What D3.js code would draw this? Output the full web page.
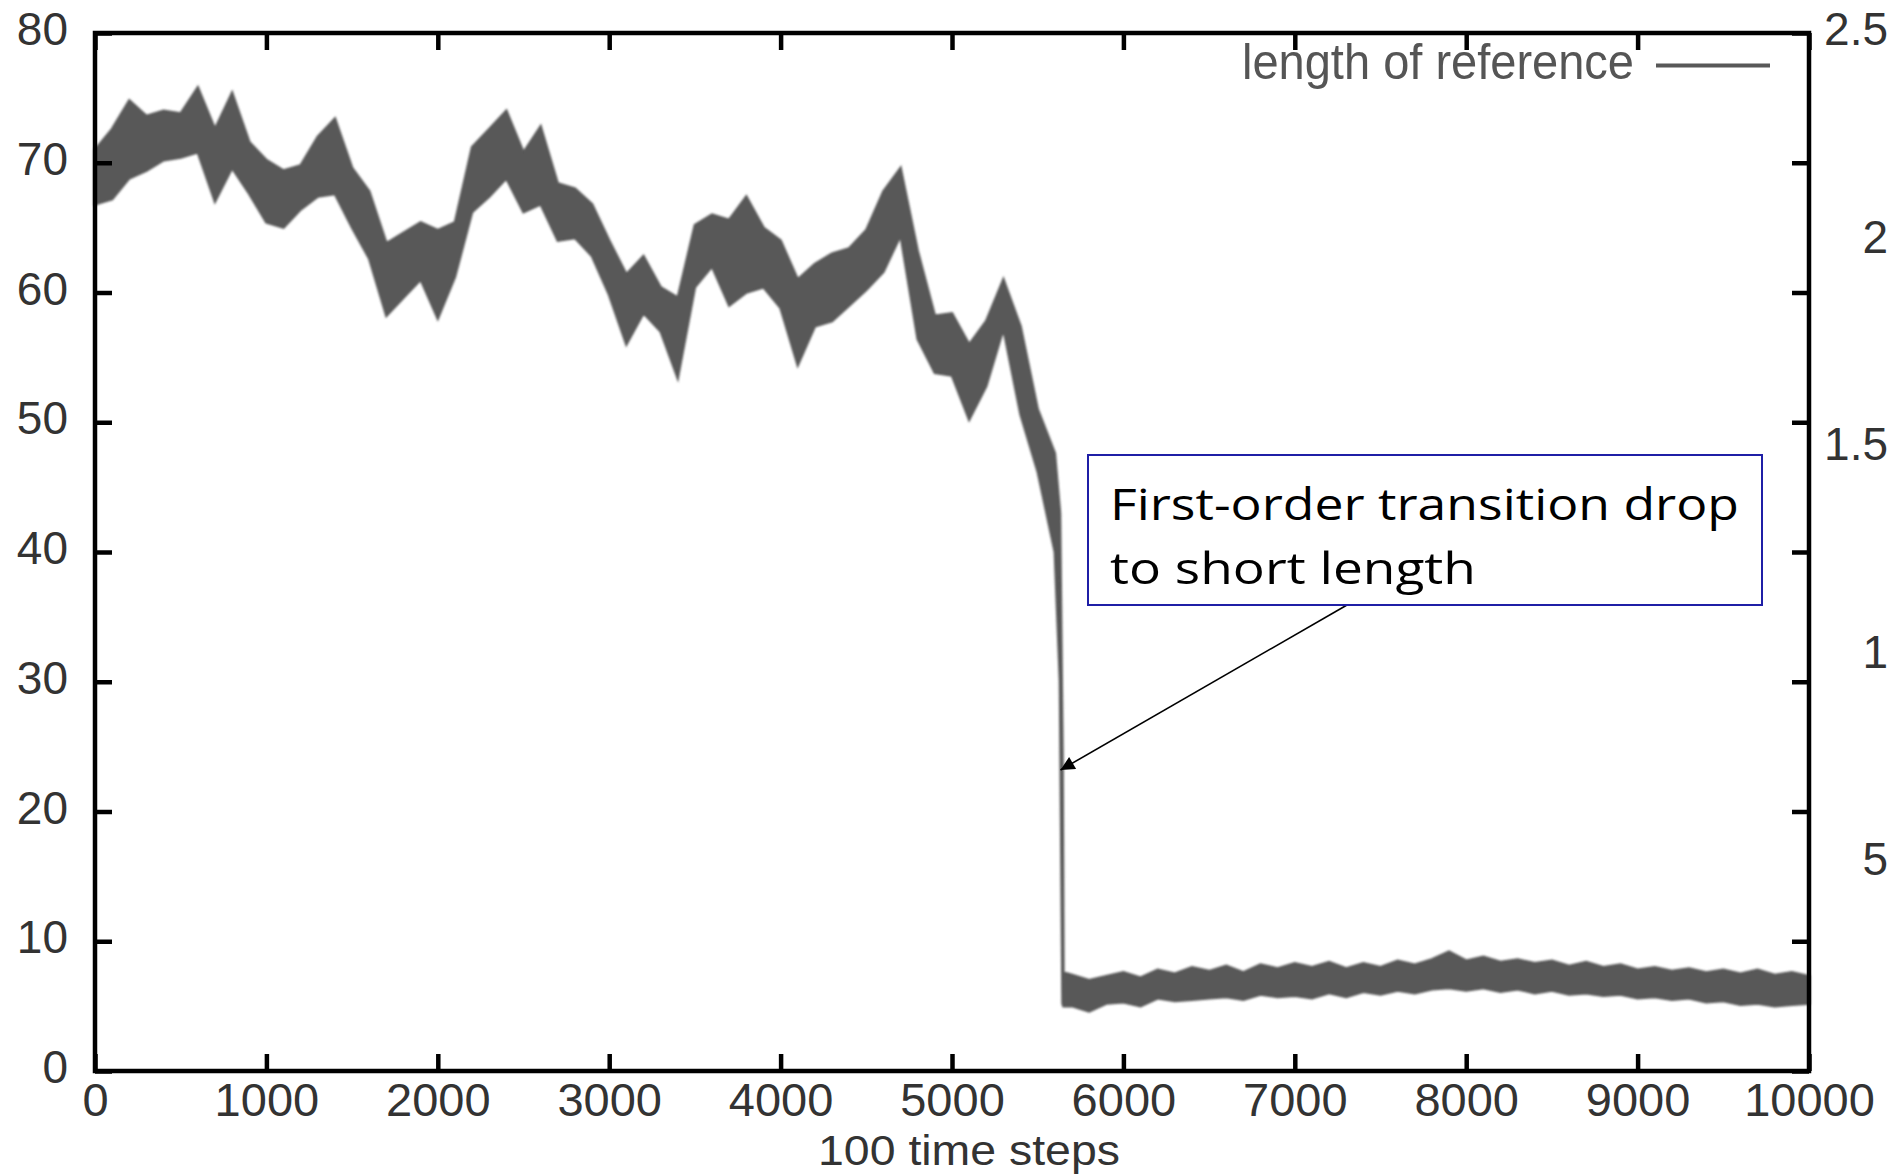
<!DOCTYPE html>
<html>
<head>
<meta charset="utf-8">
<script src="https://cdn.jsdelivr.net/npm/d3@7/dist/d3.min.js"></script>
<style>
  html, body { margin: 0; padding: 0; background: #fff; overflow: hidden; }
  svg { display: block; }
</style>
</head>
<body>
<svg id="chart" width="1891" height="1175"></svg>
<script>
// length of reference, sampled every ~100 steps: upper / lower edge of the noisy trace
var steps = [0, 100, 200, 300, 400, 500, 600, 700, 800, 900,
    1000, 1100, 1200, 1300, 1400, 1500, 1600, 1700, 1800, 1900,
    2000, 2100, 2200, 2300, 2400, 2500, 2600, 2700, 2800, 2900,
    3000, 3100, 3200, 3300, 3400, 3500, 3600, 3700, 3800, 3900,
    4000, 4100, 4200, 4300, 4400, 4500, 4600, 4700, 4800, 4900,
    5000, 5100, 5200, 5300, 5400, 5500, 5600, 5630, 5645, 5650,
    5700, 5800, 5900, 6000, 6100, 6200, 6300, 6400, 6500, 6600,
    6700, 6800, 6900, 7000, 7100, 7200, 7300, 7400, 7500, 7600,
    7700, 7800, 7900, 8000, 8100, 8200, 8300, 8400, 8500, 8600,
    8700, 8800, 8900, 9000, 9100, 9200, 9300, 9400, 9500, 9600,
    9700, 9800, 9900, 10000];
var upper = [71.0, 72.6, 74.8, 73.6, 74.0, 73.8, 75.8, 72.6, 75.4, 71.6,
    70.2, 69.4, 69.8, 72.0, 73.4, 69.6, 67.8, 63.8, 64.6, 65.4,
    64.8, 65.4, 71.2, 72.6, 74.0, 70.8, 72.8, 68.4, 68.0, 66.8,
    64.0, 61.4, 62.8, 60.4, 59.6, 65.2, 66.0, 65.6, 67.4, 65.0,
    64.0, 61.0, 62.2, 63.0, 63.4, 64.8, 67.8, 69.6, 63.2, 58.2,
    58.4, 56.0, 57.8, 61.0, 57.4, 51.0, 47.6, 43.0, 24.0, 7.6,
    7.4, 7.0, 7.3, 7.6, 7.2, 7.8, 7.5, 8.0, 7.7, 8.1,
    7.6, 8.2, 7.9, 8.3, 8.0, 8.4, 7.9, 8.3, 8.0, 8.5,
    8.2, 8.6, 9.2, 8.5, 8.8, 8.4, 8.6, 8.3, 8.5, 8.1,
    8.4, 8.0, 8.2, 7.8, 8.0, 7.7, 7.9, 7.6, 7.8, 7.5,
    7.8, 7.4, 7.6, 7.3];
var lower = [66.8, 67.2, 68.8, 69.4, 70.2, 70.4, 70.8, 67.0, 69.6, 67.6,
    65.4, 65.0, 66.4, 67.4, 67.6, 65.0, 62.6, 58.2, 59.6, 61.0,
    58.0, 61.2, 66.2, 67.4, 68.8, 66.2, 66.8, 64.0, 64.2, 62.8,
    59.8, 56.0, 58.4, 57.0, 53.4, 60.4, 62.0, 59.0, 60.0, 60.4,
    58.8, 54.4, 57.4, 57.8, 59.0, 60.2, 61.6, 64.4, 56.4, 53.8,
    53.6, 50.2, 52.8, 57.2, 50.6, 46.2, 40.0, 30.0, 5.2, 5.0,
    5.0, 4.6, 5.2, 5.3, 5.0, 5.6, 5.4, 5.5, 5.6, 5.7,
    5.5, 5.9, 5.7, 5.8, 5.6, 6.0, 5.7, 6.1, 5.9, 6.2,
    6.0, 6.3, 6.4, 6.2, 6.4, 6.1, 6.3, 6.0, 6.2, 5.9,
    6.0, 5.8, 5.9, 5.6, 5.7, 5.5, 5.6, 5.3, 5.4, 5.1,
    5.2, 5.0, 5.1, 5.2];

var xTicks = [0, 1000, 2000, 3000, 4000, 5000, 6000, 7000, 8000, 9000, 10000];
var yTicks = [0, 10, 20, 30, 40, 50, 60, 70, 80];
var y2Ticks = [0.5, 1, 1.5, 2, 2.5];
var y2TickLabels = ["5", "1", "1.5", "2", "2.5"];

var seriesName = "length of reference";
var xLabel = "100 time steps";
var noteLines = ["First-order transition drop", "to short length"];
var notePoint = {step: 5633, value: 23.2};

var W = 1891, H = 1175;
var plot = {left: 95, right: 1809, top: 33, bottom: 1071};
var lineColor = "#585858";
var textColor = "#333";
var tickFont = "'Liberation Sans', Arial, sans-serif";

var svg = d3.select("#chart");

var defs = svg.append("defs");
defs.append("filter").attr("id", "soft")
    .append("feGaussianBlur").attr("stdDeviation", 1.1);
defs.append("marker")
    .attr("id", "arrowhead")
    .attr("viewBox", "0 0 10 10")
    .attr("refX", 10).attr("refY", 5)
    .attr("markerUnits", "userSpaceOnUse")
    .attr("markerWidth", 18).attr("markerHeight", 14)
    .attr("orient", "auto")
    .append("path")
    .attr("d", "M0,0 L10,5 L0,10 z")
    .attr("fill", "#000");

var x = d3.scaleLinear().domain([0, 10000]).range([plot.left, plot.right]);
var y = d3.scaleLinear().domain([0, 80]).range([plot.bottom, plot.top]);
var y2 = d3.scaleLinear().domain([0, 2.5]).range([plot.bottom, plot.top]);

var points = steps.map(function(s, i) {
    return {step: s, hi: upper[i], lo: lower[i]};
});

// noisy trace drawn as a band
var band = svg.append("g").attr("class", "series").attr("filter", "url(#soft)");
var area = d3.area()
    .x(function(d) { return x(d.step); })
    .y0(function(d) { return y(d.lo); })
    .y1(function(d) { return y(d.hi); });
band.append("path")
    .datum(points)
    .attr("d", area)
    .attr("fill", lineColor)
    .attr("stroke", lineColor)
    .attr("stroke-width", 2.5)
    .attr("stroke-linejoin", "miter");

// frame + ticks (gnuplot style, mirrored)
function styleAxis(g) {
    g.select(".domain").remove();
    g.attr("font-family", tickFont).attr("font-size", 47);
    g.selectAll(".tick line").attr("stroke", "#000").attr("stroke-width", 4.5);
    g.selectAll(".tick text").attr("fill", textColor);
}

svg.append("g")
    .attr("transform", "translate(0," + plot.bottom + ")")
    .call(d3.axisBottom(x).tickValues(xTicks).tickSize(-17).tickPadding(12).tickFormat(d3.format("d")))
    .call(styleAxis);

svg.append("g")
    .attr("transform", "translate(0," + plot.top + ")")
    .call(d3.axisTop(x).tickValues(xTicks).tickSize(-17).tickFormat(""))
    .call(styleAxis);

var leftAxis = svg.append("g")
    .attr("transform", "translate(" + plot.left + ",0)")
    .call(d3.axisLeft(y).tickValues(yTicks).tickSize(-17).tickPadding(27).tickFormat(d3.format("d")))
    .call(styleAxis);
leftAxis.selectAll(".tick text").attr("dy", "0.25em").attr("font-size", 46);

svg.append("g")
    .attr("transform", "translate(" + plot.right + ",0)")
    .call(d3.axisRight(y).tickValues(yTicks).tickSize(-17).tickFormat(""))
    .call(styleAxis);

var rightAxis = svg.append("g")
    .attr("transform", "translate(" + plot.right + ",0)")
    .call(d3.axisRight(y2).tickValues(y2Ticks).tickSize(0)
        .tickFormat(function(d, i) { return y2TickLabels[i]; }))
    .call(styleAxis);
rightAxis.selectAll(".tick text")
    .attr("x", W - 3 - plot.right)
    .attr("text-anchor", "end")
    .attr("dy", "0.25em")
    .attr("font-size", 46);

svg.append("rect")
    .attr("x", plot.left).attr("y", plot.top)
    .attr("width", plot.right - plot.left)
    .attr("height", plot.bottom - plot.top)
    .attr("fill", "none")
    .attr("stroke", "#000")
    .attr("stroke-width", 4.5);

// x axis title
svg.append("text")
    .attr("x", 969).attr("y", 1165)
    .attr("text-anchor", "middle")
    .attr("font-family", tickFont)
    .attr("font-size", 42)
    .attr("textLength", 302)
    .attr("lengthAdjust", "spacingAndGlyphs")
    .attr("fill", textColor)
    .text(xLabel);

// legend
var legend = svg.append("g").attr("class", "legend");
legend.append("text")
    .attr("x", 1634).attr("y", 79)
    .attr("text-anchor", "end")
    .attr("font-family", tickFont)
    .attr("font-size", 50)
    .attr("textLength", 392)
    .attr("lengthAdjust", "spacingAndGlyphs")
    .attr("fill", "#555")
    .text(seriesName);
legend.append("line")
    .attr("x1", 1656).attr("x2", 1770)
    .attr("y1", 65.5).attr("y2", 65.5)
    .attr("stroke", lineColor)
    .attr("stroke-width", 4);

// annotation
var note = {x: 1088, y: 455, w: 674, h: 150};
var noteG = svg.append("g").attr("class", "note");
noteG.append("line")
    .attr("x1", 1347).attr("y1", note.y + note.h)
    .attr("x2", x(notePoint.step)).attr("y2", y(notePoint.value))
    .attr("stroke", "#000")
    .attr("stroke-width", 1.6)
    .attr("marker-end", "url(#arrowhead)");
noteG.append("rect")
    .attr("x", note.x).attr("y", note.y)
    .attr("width", note.w).attr("height", note.h)
    .attr("fill", "#fff")
    .attr("stroke", "#1f1fa6")
    .attr("stroke-width", 2);
var noteWidths = [629, 366];
noteG.selectAll("text.note-line")
    .data(noteLines)
    .enter()
    .append("text")
    .attr("class", "note-line")
    .attr("x", 1110)
    .attr("y", function(d, i) { return 520 + i * 64; })
    .attr("font-family", "'Open Sans', sans-serif")
    .attr("font-size", 44)
    .attr("textLength", function(d, i) { return noteWidths[i]; })
    .attr("lengthAdjust", "spacingAndGlyphs")
    .attr("fill", "#000")
    .text(function(d) { return d; });
</script>
</body>
</html>
